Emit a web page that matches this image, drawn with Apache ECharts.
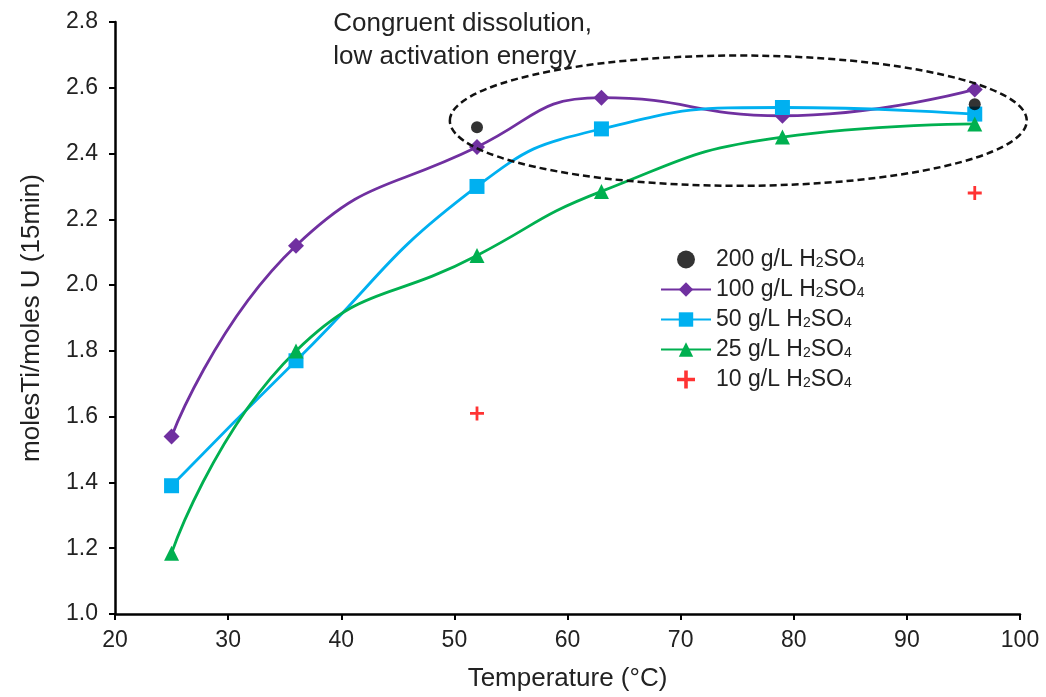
<!DOCTYPE html>
<html>
<head>
<meta charset="utf-8">
<script src="https://cdn.jsdelivr.net/npm/echarts@6/dist/echarts.min.js"></script>
<style>
  html, body { margin: 0; padding: 0; background: #fff; }
  #chart { width: 1046px; height: 697px; }
</style>
</head>
<body>
<div id="chart"></div>
<script>
// Temperatures (°C) at which each acid strength was sampled
const temps = [25, 36, 52, 63, 79, 96];
const tempsSparse = [52, 96];

// Ti/U mole ratio after 15 min, per H2SO4 concentration
const acid200 = [2.48, 2.55];
const acid100 = [1.54, 2.12, 2.42, 2.57, 2.515, 2.595];
const acid50  = [1.39, 1.77, 2.30, 2.475, 2.54, 2.52];
const acid25  = [1.185, 1.80, 2.09, 2.285, 2.45, 2.49];
const acid10  = [1.61, 2.28];

const seriesNames = ['200 g/L H2SO4', '100 g/L H2SO4', '50 g/L H2SO4', '25 g/L H2SO4', '10 g/L H2SO4'];

// Annotated region (data units): centre and half-extents of the dashed ellipse
const regionCentre = [75.1, 2.50];
const regionHalf = [25.5, 0.198];
const regionNote = 'Congruent dissolution,\nlow activation energy';

const pair = (xs, ys) => xs.map((x, i) => [x, ys[i]]);
const crossPath = 'path://M4,0H6V4H10V6H6V10H4V6H0V4H4Z';
const FONT = 'Liberation Sans, Arial, sans-serif';
const TXT = '#222';

const chart = echarts.init(document.getElementById('chart'));

const lineSeries = (name, data, color, symbol, size) => ({
  name, type: 'line', data, smooth: 0.5,
  symbol, symbolSize: size,
  lineStyle: { color, width: 2.8 },
  itemStyle: { color },
  z: 3
});

chart.setOption({
  animation: false,
  backgroundColor: '#fff',
  grid: { left: 115, right: 26, top: 22, bottom: 83 },
  xAxis: {
    type: 'value', min: 20, max: 100, interval: 10,
    name: 'Temperature (°C)', nameLocation: 'middle', nameGap: 52,
    nameTextStyle: { fontFamily: FONT, fontSize: 26, color: TXT },
    axisLine: { show: true, lineStyle: { color: '#000', width: 2.5 } },
    axisTick: { show: true, length: 6, lineStyle: { color: '#000', width: 2 } },
    axisLabel: { fontFamily: FONT, fontSize: 23, color: TXT, margin: 15 },
    splitLine: { show: false }
  },
  yAxis: {
    type: 'value', min: 1.0, max: 2.8, interval: 0.2,
    name: 'molesTi/moles U (15min)', nameLocation: 'middle', nameGap: 70,
    nameRotate: 90,
    nameTextStyle: { fontFamily: FONT, fontSize: 26, color: TXT },
    axisLine: { show: true, lineStyle: { color: '#000', width: 2.5 } },
    axisTick: { show: true, length: 6, lineStyle: { color: '#000', width: 2 } },
    axisLabel: { fontFamily: FONT, fontSize: 23, color: TXT, margin: 17,
                 formatter: v => v.toFixed(1) },
    splitLine: { show: false }
  },
  legend: {
    orient: 'vertical', left: 655, top: 243, itemGap: 7,
    itemWidth: 50, itemHeight: 18,
    data: seriesNames,
    formatter: n => n.replace('H2SO4', 'H{s|2}SO{s|4}'),
    textStyle: {
      fontFamily: FONT, fontSize: 23, color: TXT, lineHeight: 22,
      rich: { s: { fontFamily: FONT, fontSize: 14, color: TXT, lineHeight: 22, verticalAlign: 'bottom', padding: [8, 0, 0, 0] } }
    }
  },
  series: [
    {
      name: seriesNames[0], type: 'scatter', data: pair(tempsSparse, acid200),
      symbol: 'circle', symbolSize: 12, itemStyle: { color: '#000' }, z: 4
    },
    lineSeries(seriesNames[1], pair(temps, acid100), '#7030a0', 'diamond', 16),
    lineSeries(seriesNames[2], pair(temps, acid50), '#00b0f0', 'rect', 15),
    lineSeries(seriesNames[3], pair(temps, acid25), '#00b050', 'triangle', 15),
    {
      name: seriesNames[4], type: 'scatter', data: pair(tempsSparse, acid10),
      symbol: crossPath, symbolSize: 14, itemStyle: { color: '#ff0000' }, z: 4
    }
  ]
});

// Place the dashed ellipse and its note through the axes' own scales
const c = chart.convertToPixel({ gridIndex: 0 }, regionCentre);
const e = chart.convertToPixel({ gridIndex: 0 }, [regionCentre[0] + regionHalf[0], regionCentre[1] + regionHalf[1]]);
const noteAt = chart.convertToPixel({ gridIndex: 0 }, [39.3, 2.846]);
chart.setOption({
  graphic: [
    {
      type: 'ellipse', z: 10, silent: true,
      shape: { cx: c[0], cy: c[1], rx: Math.abs(e[0] - c[0]), ry: Math.abs(c[1] - e[1]) },
      style: { fill: 'none', stroke: '#111', lineWidth: 2.5, lineDash: [7, 4] }
    },
    {
      type: 'text', z: 10, silent: true, x: noteAt[0], y: noteAt[1],
      style: { text: regionNote, font: '26px ' + FONT, fill: TXT, lineHeight: 33 }
    }
  ]
});
</script>
</body>
</html>
